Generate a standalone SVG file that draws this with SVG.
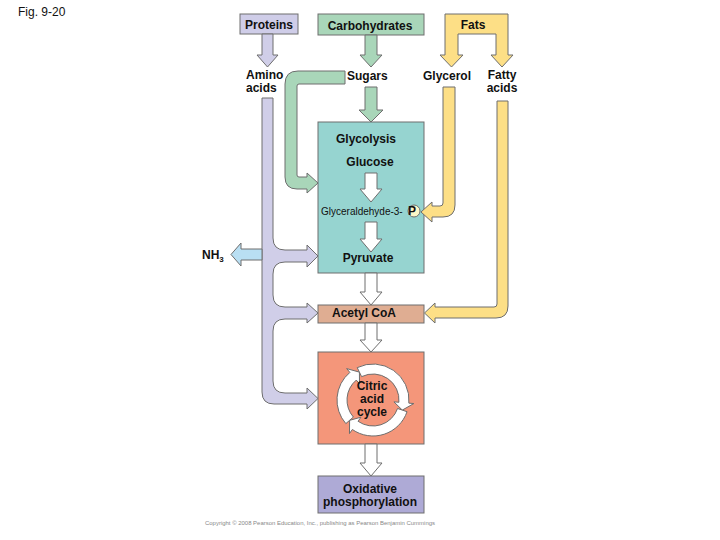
<svg xmlns="http://www.w3.org/2000/svg" width="720" height="540" viewBox="0 0 720 540">
<style>
  .t { font-family: "Liberation Sans", Arial, sans-serif; font-size: 12px; font-weight: bold; fill: #111; }
  .n { font-family: "Liberation Sans", Arial, sans-serif; fill: #111; }
  .box { stroke: #6e6e6e; stroke-width: 1; }
  .arr { stroke: #6e6e6e; stroke-width: 1; stroke-linejoin: miter; }
  .white { fill: #ffffff; }
  .purple { fill: #d0cee8; }
  .green { fill: #a9d6b9; }
  .yellow { fill: #fddf86; }
  .blue { fill: #b9dff3; }
</style>
<rect width="720" height="540" fill="#ffffff"/>
<text class="n" x="18" y="16" font-size="12">Fig. 9-20</text>

<g id="proteins">
  <rect class="box" x="240" y="14" width="58" height="20" fill="#cfcde8"/>
  <text class="t" x="269" y="29" text-anchor="middle">Proteins</text>
</g>
<g id="carbohydrates">
  <rect class="box" x="318" y="14" width="106" height="21" fill="#a9d6b9"/>
  <text class="t" x="370" y="30" text-anchor="middle">Carbohydrates</text>
</g>
<g id="fats">
  <path class="arr yellow" d="M445,14 L508,14 L508,55 L513,55 L502,67 L491,55 L496,55 L496,34 L458,34 L458,55 L463,55 L451.5,67 L440,55 L445,55 Z"/>
  <text class="t" x="473" y="29" text-anchor="middle">Fats</text>
</g>
<g id="amino-acids">
  <text class="t" x="246" y="79">Amino</text>
  <text class="t" x="246" y="92">acids</text>
</g>
<g id="sugars">
  <text class="t" x="347" y="80">Sugars</text>
</g>
<g id="glycerol">
  <text class="t" x="423" y="80">Glycerol</text>
</g>
<g id="fatty-acids">
  <text class="t" x="502" y="79" text-anchor="middle">Fatty</text>
  <text class="t" x="502" y="92" text-anchor="middle">acids</text>
</g>

<g id="glycolysis">
  <rect class="box" x="318" y="122" width="106" height="151" fill="#96d4d0"/>
  <text class="t" x="366" y="143" text-anchor="middle">Glycolysis</text>
  <text class="t" x="370" y="166" text-anchor="middle">Glucose</text>
  <text class="n" x="321" y="215" font-size="10">Glyceraldehyde-3-</text>
  <circle cx="414" cy="211" r="6" fill="#fdf8c8" stroke="#6e6e6e" stroke-width="1"/>
  <text class="t" x="412" y="215" font-size="10" text-anchor="middle">P</text>
  <text class="t" x="368" y="262" text-anchor="middle">Pyruvate</text>
  <path class="arr white" d="M365,173 L377,173 L377,189 L382,189 L371,202 L360,189 L365,189 Z"/>
  <path class="arr white" d="M365,222 L377,222 L377,239 L382,239 L371,252 L360,239 L365,239 Z"/>
</g>

<g id="nh3">
  <text class="t" x="202" y="259">NH<tspan font-size="8" dy="3">3</tspan></text>
</g>

<g id="acetyl-coa">
  <rect class="box" x="318" y="305" width="106" height="18" fill="#dfad92"/>
  <text class="t" x="364" y="317" text-anchor="middle">Acetyl CoA</text>
</g>

<g id="citric-acid-cycle">
  <rect class="box" x="318" y="352" width="106" height="92" fill="#f4967a"/>
  <path class="arr white" d="M345.83,423.62 A36,36 0 0 1 349.86,372.42 L346.65,368.59 L359.41,372.14 L359.50,383.91 L356.29,380.08 A26,26 0 0 0 353.38,417.06 Z"/>
  <path class="arr white" d="M357.22,367.64 A36,36 0 0 1 408.86,403.14 L413.84,403.57 L402.31,410.09 L393.92,401.83 L398.90,402.27 A26,26 0 0 0 361.60,376.63 Z"/>
  <path class="arr white" d="M407.04,411.72 A36,36 0 0 1 352.35,429.49 L349.48,433.59 L349.60,420.34 L360.95,417.20 L358.09,421.30 A26,26 0 0 0 397.58,408.47 Z"/>
  <text class="t" x="372" y="390" text-anchor="middle">Citric</text>
  <text class="t" x="372" y="403" text-anchor="middle">acid</text>
  <text class="t" x="372" y="416" text-anchor="middle">cycle</text>
</g>

<g id="oxidative-phosphorylation">
  <rect class="box" x="318" y="476" width="106" height="37" fill="#aeaad6"/>
  <text class="t" x="370" y="493" text-anchor="middle">Oxidative</text>
  <text class="t" x="370" y="506" text-anchor="middle">phosphorylation</text>
</g>

<g id="connectors">
  <!-- Proteins -> Amino acids -->
  <path class="arr purple" d="M262,34 L273,34 L273,55 L278,55 L267.5,67 L257,55 L262,55 Z"/>
  <!-- Carbohydrates -> Sugars -->
  <path class="arr green" d="M365,35 L377,35 L377,55 L382,55 L371,67 L360,55 L365,55 Z"/>
  <!-- Sugars -> Glycolysis -->
  <path class="arr green" d="M365,87 L377,87 L377,110 L383,110 L371,122 L359,110 L365,110 Z"/>
  <!-- Sugars elbow -> Glucose -->
  <path class="arr green" d="M345,71 L298,71 Q285,71 285,84 L285,177 Q285,189 297,189 L307,189 L307,193 L318,183 L307,173 L307,177 L299,177 Q297,177 297,175 L297,86 Q297,84 299,84 L345,84 Z"/>
  <!-- Amino acids trunk with branches -->
  <path class="arr purple" d="M262,98 L273,98 L273,238 Q273,250 285,250 L307,250 L307,245 L318,256 L307,267 L307,262 L285,262 Q273,262 273,274 L273,295 Q273,307 285,307 L307,307 L307,303 L318,313 L307,323 L307,319 L285,319 Q273,319 273,331 L273,381 Q273,393 285,393 L307,393 L307,388 L318,398.5 L307,409 L307,404 L274,404 Q262,404 262,392 Z"/>
  <!-- NH3 -->
  <path class="arr blue" d="M262,249 L241,249 L241,243 L231,254.5 L241,266 L241,260 L262,260 Z"/>
  <!-- Glycerol -> Glyceraldehyde-3-P -->
  <path class="arr yellow" d="M443,87 L455,87 L455,205 Q455,217 443,217 L432,217 L432,222 L421,212 L432,202 L432,206 L440,206 Q443,206 443,203 Z"/>
  <!-- Fatty acids -> Acetyl CoA -->
  <path class="arr yellow" d="M497,101 L508,101 L508,306 Q508,318 496,318 L435,318 L435,323 L424.5,313 L435,303 L435,307 L494,307 Q497,307 497,304 Z"/>
  <!-- Glycolysis -> Acetyl CoA -->
  <path class="arr white" d="M365,273 L377,273 L377,292 L382,292 L371,305 L360,292 L365,292 Z"/>
  <!-- Acetyl CoA -> Citric -->
  <path class="arr white" d="M365,323 L377,323 L377,340 L382,340 L371,352 L360,340 L365,340 Z"/>
  <!-- Citric -> Oxidative -->
  <path class="arr white" d="M365,444 L377,444 L377,463 L382,463 L371,476 L360,463 L365,463 Z"/>
</g>

<text class="n" x="205" y="525" font-size="6" textLength="230" lengthAdjust="spacingAndGlyphs" style="fill:#888">Copyright © 2008 Pearson Education, Inc., publishing as Pearson Benjamin Cummings</text>
</svg>
